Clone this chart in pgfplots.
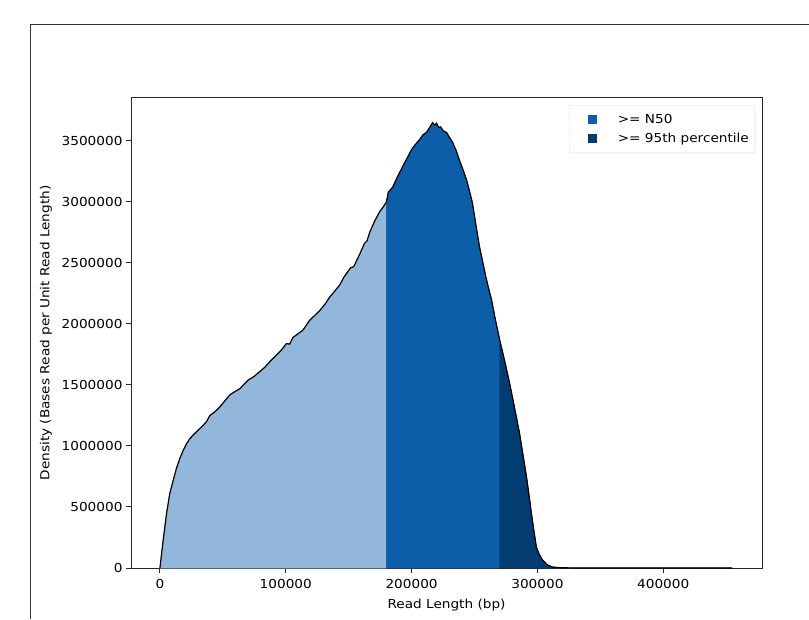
\documentclass[border=0pt]{standalone}
\usepackage{fontspec}
\setmainfont[FakeStretch=1.1]{DejaVu Sans}
\usepackage{pgfplots}
\usepackage{pgfplotstable}
\pgfplotsset{compat=1.18}
\definecolor{lightb}{RGB}{146,183,219}
\definecolor{midb}{RGB}{12,94,168}
\definecolor{darkb}{RGB}{3,60,113}
\pgfplotstableread{
x y
0 0
2600 230000
5300 450000
7900 615000
10600 720000
13200 820000
15900 900000
18500 965000
21200 1020000
23800 1060000
26400 1090000
30400 1130000
34400 1170000
37000 1200000
39700 1250000
43600 1280000
47600 1320000
51600 1370000
55600 1420000
59500 1445000
63500 1470000
66800 1505000
70100 1540000
74800 1570000
79400 1610000
83300 1645000
87300 1690000
92000 1740000
96000 1780000
100600 1840000
103000 1835000
105800 1890000
109800 1920000
113700 1950000
116300 1990000
119000 2030000
123000 2070000
127000 2110000
131000 2160000
134900 2220000
139000 2270000
142900 2320000
146000 2380000
149400 2430000
151500 2460000
154000 2470000
158700 2570000
162500 2660000
164500 2680000
166700 2750000
170500 2840000
174600 2920000
177500 2960000
180000 3000000
}\lightdata
\pgfplotstableread{
x y
180000 3000000
181500 3080000
184900 3120000
188500 3200000
192900 3290000
196500 3360000
200000 3430000
203000 3470000
206300 3510000
209000 3550000
211900 3570000
214300 3610000
216700 3650000
218300 3630000
219800 3645000
221500 3610000
223000 3615000
225500 3580000
227800 3570000
230000 3530000
232500 3490000
235500 3420000
238100 3340000
241000 3260000
243700 3180000
246000 3090000
248400 2990000
251000 2820000
254000 2630000
256500 2510000
258700 2400000
261000 2300000
263500 2200000
266500 2040000
270000 1870000
}\middata
\pgfplotstableread{
x y
270000 1870000
273900 1700000
277800 1520000
281700 1320000
285700 1110000
288500 930000
291300 750000
293300 600000
295200 450000
297300 300000
299200 170000
301500 110000
304000 66000
308000 25000
311900 8000
317500 2000
330000 500
350000 200
380000 100
420000 50
454800 0
}\darkdata
\begin{document}
\begin{tikzpicture}[font=\fontsize{12.4}{15}\selectfont]
\useasboundingbox (0pt,0pt) rectangle (809pt,619pt);
\draw[black!80, line width=1pt] (30pt,0pt) -- (30pt,594pt) -- (812pt,594pt);
\begin{axis}[
  at={(131pt,51pt)}, anchor=south west,
  width=631pt, height=470pt, scale only axis,
  xmin=-23000, xmax=478500, ymin=0, ymax=3852000,
  xtick={0,100000,200000,300000,400000},
  ytick={0,500000,1000000,1500000,2000000,2500000,3000000,3500000},
  scaled ticks=false,
  /pgf/number format/.cd, fixed, 1000 sep={}, assume math mode=true, /pgfplots/.cd,
  tick label style={font=\fontsize{12.4}{15}\selectfont},
  xticklabel style={yshift=-2.5pt},
  tick pos=left, tick align=outside, major tick length=5pt,
  every tick/.style={black!85, line width=1pt},
  axis line style={black!85, line width=1pt},
  xlabel={Read Length (bp)},
  ylabel={Density (Bases Read per Unit Read Length)},
  xlabel style={at={(axis description cs:0.5,-0.0787)}, anchor=center},
  ylabel style={at={(axis description cs:-0.1347,0.5)}, anchor=center, rotate=0},
  legend style={at={(axis description cs:0.989,0.985)}, anchor=north east,
    draw=black!15, rounded corners=2pt, inner xsep=4pt, inner ysep=7pt, row sep=4pt,
    font=\fontsize{12.4}{15}\selectfont},
  legend cell align=left,
]
\addplot[fill=lightb, draw=lightb, line width=0.6pt, forget plot] table[x=x,y=y] {\lightdata} \closedcycle;
\addplot[fill=midb, draw=midb, line width=0.6pt, forget plot] table[x=x,y=y] {\middata} \closedcycle;
\addplot[fill=darkb, draw=darkb, line width=0.6pt, forget plot] table[x=x,y=y] {\darkdata} \closedcycle;
\addplot[black, line width=1.2pt, forget plot] table[x=x,y=y] {\lightdata};
\addplot[black, line width=1.2pt, forget plot] table[x=x,y=y] {\middata};
\addplot[black, line width=1.2pt, forget plot] table[x=x,y=y] {\darkdata};
\addlegendimage{legend image code/.code={\path[draw=none] (0pt,0pt) -- (42pt,0pt); \fill[midb, draw=none, sharp corners] (14pt,-4.5pt) rectangle (23pt,4.5pt);}}
\addlegendentry{>= N50}
\addlegendimage{legend image code/.code={\path[draw=none] (0pt,0pt) -- (42pt,0pt); \fill[darkb, draw=none, sharp corners] (14pt,-4.5pt) rectangle (23pt,4.5pt);}}
\addlegendentry{>= 95th percentile}
\end{axis}
\end{tikzpicture}
\end{document}
